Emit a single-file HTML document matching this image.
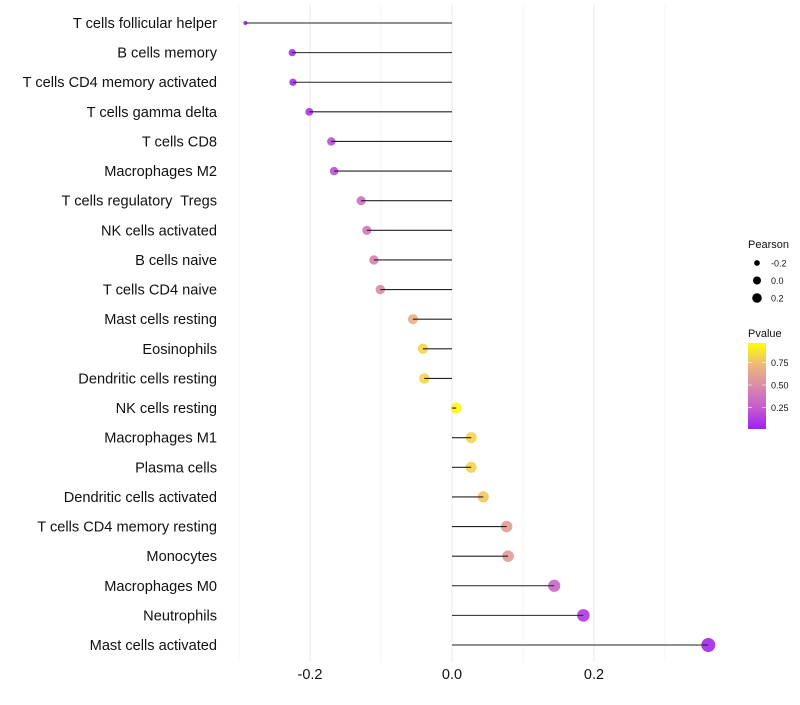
<!DOCTYPE html>
<html><head><meta charset="utf-8"><style>
body{margin:0;background:#fff;font-family:"Liberation Sans",sans-serif;}
text{white-space:pre;}
</style></head><body>
<svg id="c" width="800" height="700" xmlns="http://www.w3.org/2000/svg"></svg>
<script>
const categories=["T cells follicular helper","B cells memory","T cells CD4 memory activated","T cells gamma delta","T cells CD8","Macrophages M2","T cells regulatory  Tregs","NK cells activated","B cells naive","T cells CD4 naive","Mast cells resting","Eosinophils","Dendritic cells resting","NK cells resting","Macrophages M1","Plasma cells","Dendritic cells activated","T cells CD4 memory resting","Monocytes","Macrophages M0","Neutrophils","Mast cells activated"];
const pearson=[-0.291,-0.225,-0.224,-0.201,-0.170,-0.166,-0.128,-0.120,-0.110,-0.101,-0.055,-0.041,-0.039,0.006,0.027,0.027,0.044,0.077,0.079,0.144,0.185,0.361];
const pvalues=[0.02,0.05,0.05,0.1,0.18,0.2,0.35,0.4,0.45,0.5,0.7,0.85,0.85,0.97,0.85,0.85,0.8,0.6,0.6,0.3,0.1,0.03];
const xTicks=[-0.2,0,0.2];
const xTickLabels=["-0.2","0.0","0.2"];
const minorTicks=[-0.3,-0.1,0.1,0.3];
const sizeLegend=[-0.2,0,0.2];
const colorTicks=[0.25,0.5,0.75];

const svg=document.getElementById('c');const NS="http://www.w3.org/2000/svg";
function mk(t,a,p){const e=document.createElementNS(NS,t);for(const k in a)e.setAttribute(k,a[k]);(p||svg).appendChild(e);return e;}
const x=v=>452+v*710;
const y=i=>23+i*(622/(categories.length-1));
const pmin=Math.min(...pearson),pmax=Math.max(...pearson);
const r=v=>{const t=Math.max(0,Math.min(1,(v-pmin)/(pmax-pmin)));return 2.1+4.9*Math.sqrt(t);};
const stops=[[0,[160,32,240]],[0.25,[196,92,208]],[0.5,[218,138,168]],[0.75,[238,184,122]],[1,[255,255,0]]];
function col(p){for(let i=1;i<stops.length;i++){if(p<=stops[i][0]){const a=stops[i-1],b=stops[i];const t=(p-a[0])/(b[0]-a[0]);return 'rgb('+a[1].map((c,j)=>Math.round(c+(b[1][j]-c)*t)).join(',')+')';}}return 'rgb(255,255,0)';}
minorTicks.forEach(v=>{const g=mk('line',{x1:x(v),x2:x(v),y1:5,y2:662,stroke:'#f0f0f0','stroke-width':0.6});});
xTicks.forEach((v,i)=>{const g=mk('line',{x1:x(v),x2:x(v),y1:5,y2:662,stroke:'#ebebeb','stroke-width':1.1});
const t=mk('text',{x:x(v),y:679,'text-anchor':'middle','font-size':14.5,fill:'#111'});t.textContent=xTickLabels[i];});
categories.forEach((c,i)=>{
const t=mk('text',{x:217,y:y(i)+5,'text-anchor':'end','font-size':14.6,fill:'#111'});t.textContent=c;
const d=mk('circle',{cx:x(pearson[i]),cy:y(i),r:r(pearson[i]),fill:col(pvalues[i]),opacity:0.9});
const l=mk('line',{x1:x(0),x2:x(pearson[i]),y1:y(i),y2:y(i),stroke:'#222','stroke-width':1.1});
});
let t=mk('text',{x:748,y:248,'font-size':11,fill:'#111'});t.textContent='Pearson';
sizeLegend.forEach((v,i)=>{const cy=263+i*17.5;const d=mk('circle',{cx:757,cy:cy,r:r(v)*0.8-0.3,fill:'#000'});
const tt=mk('text',{x:771,y:cy+3.5,'font-size':9,fill:'#111'});tt.textContent=v===0?'0.0':String(v);});
t=mk('text',{x:748,y:337,'font-size':11,fill:'#111'});t.textContent='Pvalue';
const defs=mk('defs',{});const lg=mk('linearGradient',{id:'g',x1:0,y1:1,x2:0,y2:0},defs);
stops.forEach(s=>mk('stop',{offset:s[0],'stop-color':col(s[0])},lg));
const bar=mk('rect',{x:748,y:343,width:18,height:86,fill:'url(#g)'});
const cy=p=>430-p*90;
colorTicks.forEach(p=>{mk('line',{x1:748,x2:752,y1:cy(p),y2:cy(p),stroke:'#fff','stroke-width':0.6});mk('line',{x1:762,x2:766,y1:cy(p),y2:cy(p),stroke:'#fff','stroke-width':0.6});
const tt=mk('text',{x:771,y:cy(p)+3.5,'font-size':9,fill:'#111'});tt.textContent=p.toFixed(2);});
</script>
</body></html>
